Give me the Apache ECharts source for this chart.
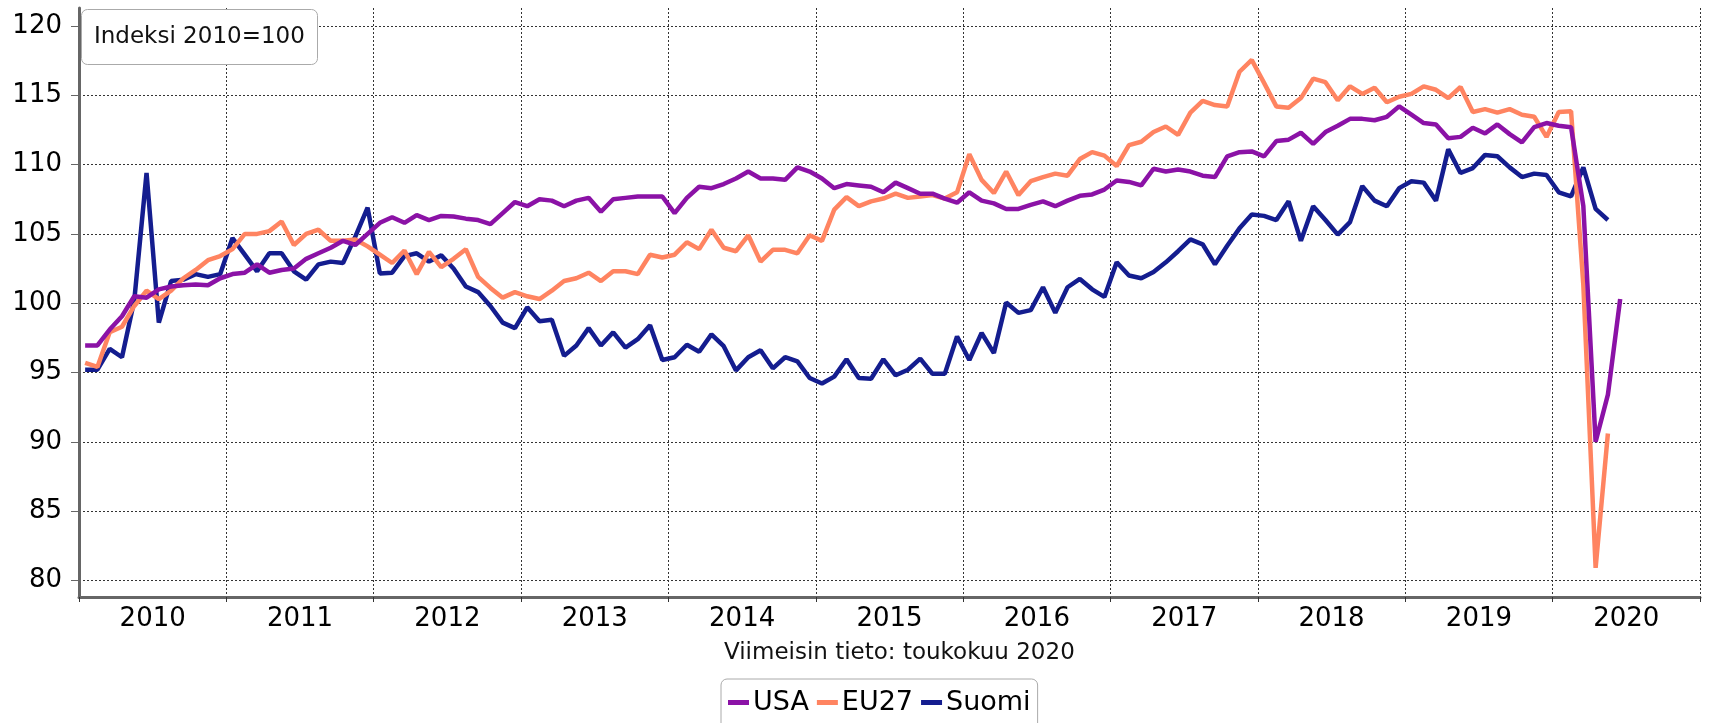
<!DOCTYPE html>
<html>
<head>
<meta charset="utf-8">
<script src="https://cdn.jsdelivr.net/npm/echarts@6/dist/echarts.min.js"></script>
<style>
html,body{margin:0;padding:0;background:#fff;}
#chart{width:1719px;height:723px;}
</style>
</head>
<body>
<div id="chart"></div>
<script>
const years = ['2010','2011','2012','2013','2014','2015','2016','2017','2018','2019','2020'];
const monthCodes = ['01','02','03','04','05','06','07','08','09','10','11','12'];
const yTicks = [80, 85, 90, 95, 100, 105, 110, 115, 120];
const seriesNames = ['USA', 'EU27', 'Suomi'];
const caption = 'Viimeisin tieto: toukokuu 2020';
const unitLabel = 'Indeksi 2010=100';

const usa = [
96.95,96.95,98.1,99.06,100.5,100.4,101.0,101.2,101.3,101.35,101.3,101.8,
102.1,102.2,102.8,102.2,102.4,102.5,103.2,103.6,104.0,104.5,104.2,105.0,
105.8,106.2,105.8,106.35,106.0,106.3,106.25,106.1,106.0,105.7,106.5,107.3,
107.0,107.5,107.4,107.0,107.4,107.6,106.6,107.5,107.6,107.7,107.7,107.7,
106.5,107.6,108.4,108.3,108.6,109.0,109.5,109.0,109.0,108.9,109.8,109.5,
109.0,108.3,108.6,108.5,108.4,108.0,108.7,108.3,107.9,107.9,107.55,107.25,
108.0,107.4,107.2,106.8,106.8,107.1,107.35,107.0,107.4,107.75,107.85,108.2,
108.85,108.75,108.5,109.7,109.5,109.65,109.5,109.2,109.1,110.6,110.9,110.95,
110.6,111.7,111.8,112.3,111.5,112.35,112.8,113.3,113.3,113.2,113.45,114.2,
113.6,113.0,112.9,111.9,112.0,112.66,112.25,112.9,112.2,111.6,112.7,113.0,
112.8,112.7,107.0,90.0,93.4,100.3
];
const eu27 = [
95.7,95.4,97.9,98.3,99.8,100.9,100.3,100.9,101.8,102.4,103.1,103.4,
103.9,105.0,105.0,105.2,105.9,104.2,105.0,105.3,104.5,104.5,104.6,104.1,
103.5,102.9,103.8,102.1,103.7,102.6,103.2,103.9,101.9,101.1,100.4,100.8,
100.5,100.3,100.9,101.6,101.8,102.2,101.6,102.3,102.3,102.1,103.5,103.3,
103.5,104.4,103.9,105.3,104.0,103.75,104.9,103.0,103.85,103.85,103.6,104.9,
104.5,106.75,107.65,107.0,107.35,107.55,107.9,107.6,107.7,107.8,107.55,108.0,
110.75,108.9,107.95,109.5,107.8,108.8,109.1,109.35,109.2,110.4,110.9,110.65,
109.9,111.4,111.65,112.35,112.75,112.15,113.75,114.6,114.3,114.2,116.7,117.55,
115.9,114.2,114.1,114.8,116.2,115.95,114.65,115.65,115.1,115.55,114.5,114.9,
115.1,115.65,115.4,114.8,115.6,113.8,114.0,113.75,114.0,113.6,113.45,112.0,
113.8,113.85,101.3,80.9,90.6
];
const suomi = [
95.2,95.2,96.7,96.1,100.2,109.4,98.6,101.6,101.7,102.1,101.9,102.1,
104.7,103.5,102.3,103.6,103.6,102.3,101.7,102.8,103.0,102.9,104.8,106.9,
102.15,102.2,103.4,103.6,103.0,103.45,102.5,101.2,100.8,99.8,98.6,98.2,
99.7,98.7,98.8,96.2,96.95,98.2,96.95,97.9,96.8,97.4,98.4,95.9,
96.1,97.0,96.5,97.75,96.9,95.15,96.1,96.6,95.3,96.1,95.8,94.6,
94.2,94.7,95.95,94.6,94.55,95.95,94.8,95.2,96.0,94.9,94.9,97.6,
95.9,97.85,96.4,100.05,99.3,99.5,101.15,99.3,101.15,101.75,101.0,100.45,
102.95,102.0,101.8,102.25,102.95,103.75,104.6,104.25,102.8,104.15,105.4,106.4,
106.3,106.0,107.35,104.5,107.0,106.0,104.95,105.85,108.45,107.4,107.0,108.3,
108.8,108.7,107.4,111.1,109.4,109.75,110.7,110.6,109.8,109.1,109.35,109.25,
108.0,107.7,109.8,106.8,106.0
];

const categories = [];
years.forEach(y => monthCodes.forEach(m => categories.push(y + '-' + m)));

const colors = ['#8b12a6', '#ff8461', '#141d8f'];
const FONT = 'DejaVu Sans';

const chart = echarts.init(document.getElementById('chart'), null, {renderer: 'canvas'});
const yearStart = (i) => i % 12 === 0;

chart.setOption({
  animation: false,
  color: colors,
  title: {
    text: unitLabel,
    left: 81, top: 9,
    padding: [15, 13],
    borderColor: '#aaa', borderWidth: 1, borderRadius: 6,
    backgroundColor: '#fff',
    textStyle: {fontFamily: FONT, fontSize: 23, fontWeight: 'normal', color: '#111', lineHeight: 26}
  },
  graphic: [{
    type: 'text', left: 900 - 176, top: 642,
    style: {text: caption, font: '23px "DejaVu Sans"', fill: '#111'}
  }],
  legend: {
    data: seriesNames,
    left: 721, top: 679,
    padding: [10, 7, 20, 7],
    borderColor: '#aaa', borderWidth: 1, borderRadius: 6,
    backgroundColor: '#fff',
    icon: 'rect', itemWidth: 21, itemHeight: 5, itemGap: 8,
    textStyle: {fontFamily: FONT, fontSize: 27, color: '#000', padding: [0, 0, 0, -1]}
  },
  grid: {left: 79, right: 19, top: 8, bottom: 126, containLabel: false},
  xAxis: {
    type: 'category',
    data: categories,
    boundaryGap: true,
    axisLine: {onZero: false, lineStyle: {color: '#666', width: 3}},
    axisTick: {show: true, interval: (i) => yearStart(i), length: 5, lineStyle: {color: '#333', width: 1}},
    splitLine: {show: true, interval: (i) => yearStart(i), lineStyle: {color: '#333', width: 1, type: [2, 2]}},
    axisLabel: {
      interval: (i) => i % 12 === 6,
      margin: 9,
      formatter: (v) => '{y|' + v.slice(0, 4) + '}',
      rich: {y: {fontFamily: FONT, fontSize: 26, color: '#000', padding: [0, 12.3, 0, 0]}}
    }
  },
  yAxis: {
    type: 'value',
    min: 78.8, max: 121.3,
    axisLine: {show: true, lineStyle: {color: '#666', width: 3}},
    axisTick: {show: true, length: 8, customValues: yTicks, lineStyle: {color: '#666', width: 1}},
    axisLabel: {customValues: yTicks, margin: 17, fontFamily: FONT, fontSize: 26, color: '#000'},
    splitLine: {show: true, lineStyle: {color: '#333', width: 1, type: [2, 2]}}
  },
  series: [
    {name: 'USA', type: 'line', data: usa, showSymbol: false, z: 5, lineStyle: {width: 4.5}},
    {name: 'EU27', type: 'line', data: eu27, showSymbol: false, z: 4, lineStyle: {width: 4.5}},
    {name: 'Suomi', type: 'line', data: suomi, showSymbol: false, z: 3, lineStyle: {width: 4.5}}
  ]
});
</script>
</body>
</html>
